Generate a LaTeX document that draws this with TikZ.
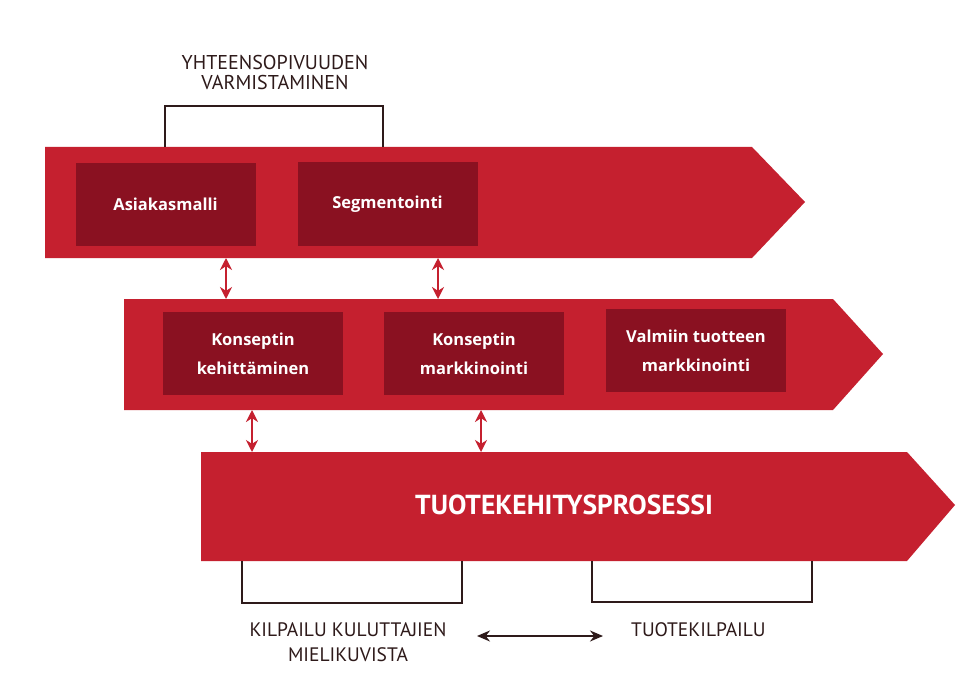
\documentclass[tikz,border=0pt]{standalone}
\usepackage{fontspec}
\setmainfont{PT Sans}
\newfontfamily\boxfont{Open Sans}
\usetikzlibrary{arrows.meta}
\definecolor{bandred}{HTML}{C5202F}
\definecolor{boxred}{HTML}{8A1121}
\definecolor{linedark}{HTML}{2E1A1A}
\begin{document}
\begin{tikzpicture}[x=1pt,y=-1pt,
  band/.style={fill=bandred,draw=none},
  inbox/.style={fill=boxred,draw=none,minimum width=180pt,minimum height=83pt,inner sep=0pt,
    text=white,font=\boxfont\fontsize{16.5}{29}\selectfont\bfseries,align=center},
  lbl/.style={text=linedark,font=\fontsize{19.5}{25}\selectfont,align=center,inner sep=0pt},
  brk/.style={draw=linedark,line width=1.6pt},
  link/.style={draw=bandred,line width=2.6pt,{Stealth[length=12pt,width=12pt]}-{Stealth[length=12pt,width=12pt]}},
  dlink/.style={draw=linedark,line width=1.8pt,{Stealth[length=13pt,width=11pt]}-{Stealth[length=13pt,width=11pt]}}]
\useasboundingbox (0,0) rectangle (957,695);
\fill[white] (0,0) rectangle (957,695);
% bands
\path[band] (45,147) -- (752,147) -- (805,202) -- (752,258) -- (45,258) -- cycle;
\path[band] (124,299) -- (833,299) -- (883,354) -- (833,410) -- (124,410) -- cycle;
\path[band] (201,452) -- (907,452) -- (955,505) -- (907,561) -- (201,561) -- cycle;
% inner boxes
\node[inbox] (asia) at (165.5,204.5) {Asiakasmalli};
\node[inbox] (segm) at (387.5,204) {Segmentointi};
\node[inbox] (kehi) at (253,353.5) {Konseptin\\kehittäminen};
\node[inbox] (kmark) at (474,353.5) {Konseptin\\markkinointi};
\node[inbox] (valm) at (696,350.5) {Valmiin tuotteen\\markkinointi};
\node[text=white,font=\fontsize{27.5}{30}\selectfont\bfseries,inner sep=0pt] (tuote) at (564,505) {TUOTEKEHITYSPROSESSI};
% links between bands
\draw[link] (226,258) -- (226,299);
\draw[link] (438,258) -- (438,299);
\draw[link] (252,410) -- (252,452);
\draw[link] (481,410) -- (481,452);
% top bracket
\node[lbl,font=\fontsize{20}{20}\selectfont] (yht) at (275,73) {YHTEENSOPIVUUDEN\\VARMISTAMINEN};
\draw[brk] (165,147) -- (165,106) -- (383,106) -- (383,147);
% bottom brackets
\draw[brk] (242,561) -- (242,603) -- (462,603) -- (462,561);
\draw[brk] (592,561) -- (592,602) -- (812,602) -- (812,561);
\node[lbl] (kilp) at (348,642.5) {KILPAILU KULUTTAJIEN\\MIELIKUVISTA};
\node[lbl,anchor=west] (tkilp) at (631,630) {TUOTEKILPAILU};
\draw[dlink] (477,636) -- (603,636);
\end{tikzpicture}
\end{document}
